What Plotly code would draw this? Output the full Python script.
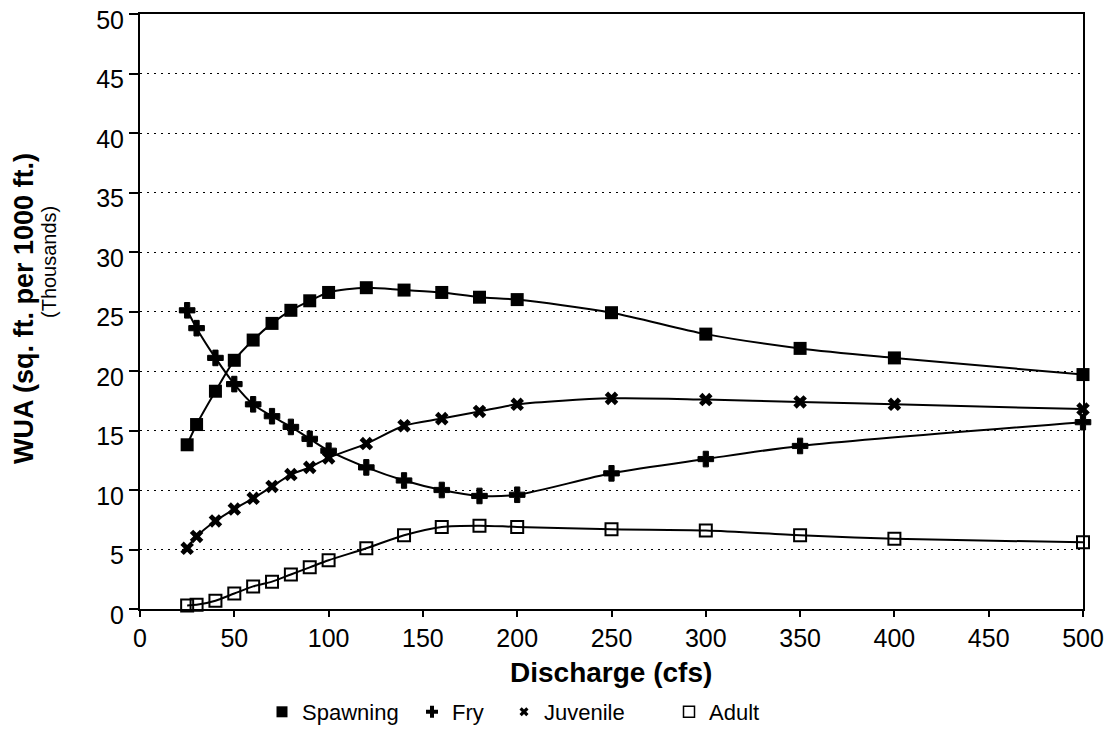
import plotly.graph_objects as go

# ---- data ----
discharge = [25, 30, 40, 50, 60, 70, 80, 90, 100, 120, 140, 160, 180, 200, 250, 300, 350, 400, 500]
spawning = [13.8, 15.5, 18.3, 20.9, 22.6, 24.0, 25.1, 25.9, 26.6, 27.0, 26.8, 26.6, 26.2, 26.0, 24.9, 23.1, 21.9, 21.1, 19.7]
fry_x = [25, 30, 40, 50, 60, 70, 80, 90, 100, 120, 140, 160, 180, 200, 250, 300, 350, 500]
fry = [25.1, 23.6, 21.1, 18.9, 17.2, 16.2, 15.3, 14.3, 13.3, 11.9, 10.8, 10.0, 9.5, 9.6, 11.4, 12.6, 13.7, 15.7]
juvenile = [5.1, 6.1, 7.4, 8.4, 9.3, 10.3, 11.3, 11.9, 12.7, 13.9, 15.4, 16.0, 16.6, 17.2, 17.7, 17.6, 17.4, 17.2, 16.8]
adult = [0.3, 0.35, 0.7, 1.3, 1.9, 2.3, 2.9, 3.5, 4.1, 5.1, 6.2, 6.9, 7.0, 6.9, 6.7, 6.6, 6.2, 5.9, 5.6]

series_names = ["Spawning", "Fry", "Juvenile", "Adult"]
x_ticks = list(range(0, 501, 50))
y_ticks = list(range(0, 51, 5))

FONT = "Liberation Sans, Arial, Helvetica, sans-serif"

# page body has an 8px default margin: figure is drawn offset by it
OFF = 8
W, H = 1116 - OFF, 735 - OFF
plot_l, plot_r, plot_t, plot_b = 140 - OFF, 1083 - OFF, 14 - OFF, 609 - OFF
pw = plot_r - plot_l
ph = plot_b - plot_t


def px_x(page_x):
    return (page_x - OFF - plot_l) / pw


def px_y(page_y):
    return (plot_b - (page_y - OFF)) / ph


styles = {
    "Spawning": dict(symbol="square", size=13, color="black", line=dict(width=0)),
    "Fry": dict(symbol="cross", size=13, color="black", line=dict(width=1, color="black")),
    "Juvenile": dict(symbol="x", size=12, color="black", line=dict(width=0)),
    "Adult": dict(symbol="square-open", size=12, color="black", line=dict(width=2, color="black")),
}
legend_marker = {
    "Spawning": dict(symbol="square", size=11, color="black"),
    "Fry": dict(symbol="cross", size=10, color="black"),
    "Juvenile": dict(symbol="x", size=8, color="black"),
    "Adult": dict(symbol="square-open", size=11, color="black", line=dict(width=1.5, color="black")),
}

data_x = {"Spawning": discharge, "Fry": fry_x, "Juvenile": discharge, "Adult": discharge}
data_y = {"Spawning": spawning, "Fry": fry, "Juvenile": juvenile, "Adult": adult}

fig = go.Figure()
for name in series_names:
    fig.add_trace(go.Scatter(
        x=data_x[name], y=data_y[name], mode="lines+markers", name=name,
        line=dict(color="black", width=2, shape="spline", smoothing=0.8),
        marker=styles[name], showlegend=False, cliponaxis=False,
    ))

# legend-only entries (markers only), each in its own legend for placement
legend_ids = ["legend", "legend2", "legend3", "legend4"]
legend_left_page = [262, 412, 504, 669]
for name, lid in zip(series_names, legend_ids):
    fig.add_trace(go.Scatter(
        x=[None], y=[None], mode="markers", name=name,
        marker=legend_marker[name], showlegend=True, legend=lid,
    ))

legend_common = dict(
    orientation="h", yanchor="middle", xanchor="left",
    font=dict(family=FONT, size=22, color="black"),
    bgcolor="rgba(0,0,0,0)", itemwidth=30,
)
layout_legends = {}
for lid, lx in zip(legend_ids, legend_left_page):
    d = dict(legend_common)
    d["x"] = px_x(lx)
    d["y"] = px_y(712)
    layout_legends[lid] = d

fig.update_layout(
    width=W, height=H,
    margin=dict(l=plot_l, r=W - plot_r, t=plot_t, b=H - plot_b, autoexpand=False),
    paper_bgcolor="white", plot_bgcolor="white",
    font=dict(family=FONT, color="black"),
    xaxis=dict(
        range=[0, 500], tickvals=x_ticks, ticktext=[str(v) for v in x_ticks],
        showgrid=False, zeroline=False, showline=True, linecolor="black", linewidth=2,
        mirror=True, ticks="outside", ticklen=6, tickwidth=2, tickcolor="black",
        tickfont=dict(family=FONT, size=25, color="black"), automargin=False,
        ticklabeloverflow="allow",
    ),
    yaxis=dict(
        range=[0, 50], tickvals=y_ticks, ticktext=[str(v) for v in y_ticks],
        showgrid=True, gridcolor="black", gridwidth=1, griddash="2px,5px",
        zeroline=False, showline=True, linecolor="black", linewidth=2,
        mirror=True, ticks="outside", ticklen=9, tickwidth=2, tickcolor="black",
        tickfont=dict(family=FONT, size=25, color="black"), automargin=False,
        ticklabeloverflow="allow", ticklabelshift=6,
    ),
    **layout_legends,
    annotations=[
        dict(text="<b>Discharge (cfs)</b>", xref="paper", yref="paper",
             x=px_x(611), y=px_y(672), xanchor="center", yanchor="middle",
             showarrow=False, font=dict(family=FONT, size=28, color="black")),
        dict(text="<b>WUA (sq. ft. per 1000 ft.)</b>", xref="paper", yref="paper",
             x=px_x(24), y=px_y(309), xanchor="center", yanchor="middle",
             textangle=-90, showarrow=False, font=dict(family=FONT, size=27, color="black")),
        dict(text="(Thousands)", xref="paper", yref="paper",
             x=px_x(49), y=px_y(262), xanchor="center", yanchor="middle",
             textangle=-90, showarrow=False, font=dict(family=FONT, size=20, color="black")),
    ],
)

fig.write_html("out.html")
